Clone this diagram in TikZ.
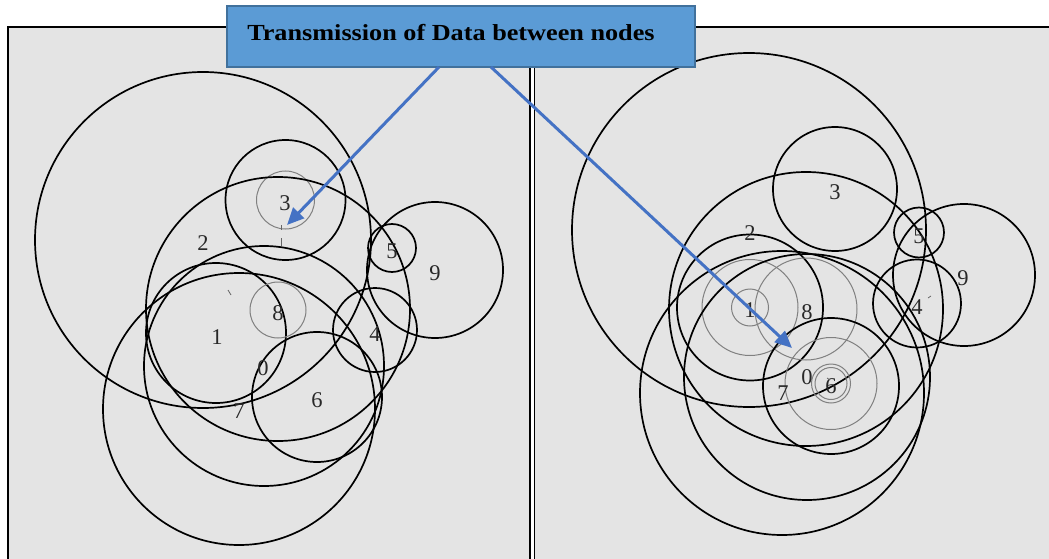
\documentclass[tikz,border=0pt]{standalone}
\usepackage{fontspec}
\setmainfont{Liberation Serif}
\usetikzlibrary{arrows.meta}
\definecolor{panelgray}{RGB}{228,228,228}
\definecolor{boxblue}{RGB}{91,155,213}
\definecolor{boxedge}{RGB}{65,113,156}
\definecolor{arrowblue}{RGB}{68,114,196}
\definecolor{labelgray}{RGB}{40,40,40}
\tikzset{
  panelbox/.style={fill=panelgray, draw=black, line width=1.6pt},
  rangecircle/.style={draw=black, line width=1.7pt},
  packetcircle/.style={draw=black!50, line width=1pt},
  nlabel/.style={inner sep=0pt, text=labelgray, font=\fontsize{22.5}{22.5}\selectfont},
  titlebox/.style={fill=boxblue, draw=boxedge, line width=1.5pt},
  sendarrow/.style={draw=arrowblue, line width=3pt, -{Triangle[length=17pt,width=15pt]}},
  tickmark/.style={draw=black!60, line width=0.8pt}
}
\begin{document}
\begin{tikzpicture}[x=1pt,y=-1pt]
\useasboundingbox (0,0) rectangle (1049,559);
\clip (0,0) rectangle (1049,559);
% panels
\draw[panelbox] (8,27) rectangle (530,570);
\draw[panelbox] (534.5,27) rectangle (1060,570);

% ---------- left panel ----------
\coordinate (c2) at (203,240);
\coordinate (c3) at (285.5,200);
\coordinate (c5) at (392,248);
\coordinate (c9) at (435,270);
\coordinate (c1) at (216,333);
\coordinate (c8) at (278,309);
\coordinate (c4) at (375,330);
\coordinate (c6) at (317,397);
\coordinate (c0) at (264,366);
\coordinate (c7) at (239,409);

\draw[rangecircle] (c2) circle[radius=168pt];
\draw[rangecircle] (c3) circle[radius=60pt];
\draw[packetcircle] (c3) circle[radius=29pt];
\draw[rangecircle] (c5) circle[radius=24pt];
\draw[rangecircle] (c9) circle[radius=68pt];
\draw[rangecircle] (c1) circle[radius=70pt];
\draw[rangecircle] (c8) circle[radius=132pt];
\draw[packetcircle] (278,310) circle[radius=28pt];
\draw[rangecircle] (c4) circle[radius=42pt];
\draw[rangecircle] (c6) circle[radius=65pt];
\draw[rangecircle] (c0) circle[radius=120pt];
\draw[rangecircle] (c7) circle[radius=136pt];

\node[nlabel] (l2) at (203,243) {2};
\node[nlabel] (l3) at (285,203) {3};
\node[nlabel] (l5) at (392,251) {5};
\node[nlabel] (l9) at (435,273) {9};
\node[nlabel] (l1) at (217,337) {1};
\node[nlabel] (l8) at (278,313) {8};
\node[nlabel] (l4) at (375,334) {4};
\node[nlabel] (l6) at (317,400) {6};
\node[nlabel] (l0) at (263,368) {0};
\node[nlabel] (l7) at (239,411) {7};

\draw[tickmark] (281.7,225) -- (281.7,230);
\draw[tickmark] (281.7,238) -- (281.7,246);
\draw[tickmark] (228,290) -- (231,295);

% ---------- right panel ----------
\coordinate (d2) at (749,230);
\coordinate (d3) at (835,189);
\coordinate (d5) at (919,232.5);
\coordinate (d9) at (964,275);
\coordinate (d1) at (750,307.5);
\coordinate (d8) at (806,309);
\coordinate (d4) at (917,303.5);
\coordinate (d6) at (831,386);
\coordinate (d6p) at (831,383.5);
\coordinate (d0) at (807,377);
\coordinate (d7) at (782,393);

\draw[rangecircle] (d2) circle[radius=177pt];
\draw[rangecircle] (d3) circle[radius=62pt];
\draw[rangecircle] (d5) circle[radius=25pt];
\draw[rangecircle] (d9) circle[radius=71pt];
\draw[rangecircle] (d1) circle[radius=73pt];
\draw[packetcircle] (d1) circle[radius=18.5pt];
\draw[packetcircle] (d1) circle[radius=48pt];
\draw[rangecircle] (d8) circle[radius=137pt];
\draw[packetcircle] (d8) circle[radius=51pt];
\draw[rangecircle] (d4) circle[radius=44pt];
\draw[rangecircle] (d6) circle[radius=68pt];
\draw[packetcircle] (d6p) circle[radius=46pt];
\draw[packetcircle] (d6p) circle[radius=19.5pt];
\draw[packetcircle] (d6p) circle[radius=16pt];
\draw[rangecircle] (d0) circle[radius=123pt];
\draw[rangecircle] (d7) circle[radius=142pt];

\node[nlabel] (k2) at (750,233) {2};
\node[nlabel] (k3) at (835,192) {3};
\node[nlabel] (k5) at (919,236) {5};
\node[nlabel] (k9) at (963,278) {9};
\node[nlabel] (k1) at (750,310) {1};
\node[nlabel] (k8) at (807,312) {8};
\node[nlabel] (k4) at (917,307) {4};
\node[nlabel] (k0) at (807,377) {0};
\node[nlabel] (k6) at (831,386) {6};
\node[nlabel] (k7) at (783,393) {7};

\draw[tickmark] (928,298) -- (931,296);
\draw[tickmark] (827,378) -- (830,380);

% ---------- title and arrows ----------
\node[titlebox, minimum width=468pt, minimum height=61pt, inner sep=0pt] (title) at (461,36.5) {};
\node[inner sep=0pt, font=\bfseries\fontsize{23}{23}\selectfont] (ttext) at (451,33)
  {\scalebox{1.14}[1]{Transmission of Data between nodes}};
\coordinate (s1) at (439,67);
\coordinate (s2) at (491,67);
\coordinate (t1) at (287,225);
\coordinate (t2) at (792,348);
\draw[sendarrow] (s1) -- (t1);
\draw[sendarrow] (s2) -- (t2);
\end{tikzpicture}
\end{document}
